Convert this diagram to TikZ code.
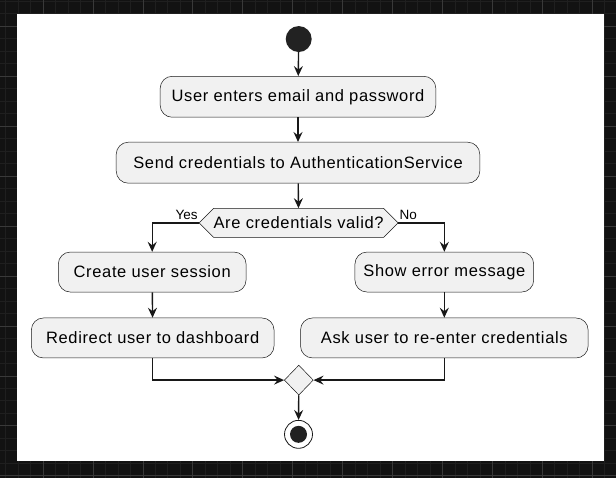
\documentclass[tikz,border=0pt]{standalone}
\usepackage{fontspec}
\setmainfont{Liberation Sans}[LetterSpace=4]
\newfontfamily\guardfont{Liberation Sans}
\usetikzlibrary{arrows.meta,shapes.geometric,shapes.symbols}

\definecolor{actfill}{HTML}{F1F1F1}
\definecolor{actline}{HTML}{181818}
\definecolor{bgdark}{HTML}{121212}
\definecolor{gridminor}{HTML}{1F1F1F}
\definecolor{gridmajor}{HTML}{393939}
\definecolor{dotfill}{HTML}{222222}

\tikzset{
  act/.style={draw=actline, line width=0.5pt, fill=actfill, rounded corners=12pt,
    inner sep=0pt, font=\fontsize{16.5}{19}\selectfont},
  flow/.style={draw=actline, line width=1.4pt,
    -{Stealth[length=10pt,width=9pt,inset=3.5pt]}},
  guard/.style={font=\guardfont\fontsize{13.5}{15}\selectfont, inner sep=1pt}
}

\begin{document}
\begin{tikzpicture}[x=1pt,y=-1pt]
      \fill [bgdark] (0,0) rectangle (616,478);
      \foreach \gx in {5.2,17.7,...,616}{
        \draw [gridminor, line width=0.8pt] (\gx,0) -- (\gx,478);
      }
      \foreach \gy in {1,13.5,...,478}{
        \draw [gridminor, line width=0.8pt] (0,\gy) -- (616,\gy);
      }
      \foreach \gx in {42.7,92.7,...,616}{
        \draw [gridmajor, line width=0.8pt] (\gx,0) -- (\gx,478);
      }
      \foreach \gy in {26,76,...,478}{
        \draw [gridmajor, line width=0.8pt] (0,\gy) -- (616,\gy);
      }
      \fill [white] (17,14) rectangle (604,461.5);
      \useasboundingbox (0,0) rectangle (616,478);

      \node [circle, fill=dotfill, minimum size=26pt, inner sep=0pt] (start) at (298.7,38.7) {};
      \node [act, minimum width=276pt, minimum height=41pt] (enter) at (298,96.5) {User enters email and password};
      \node [act, minimum width=364pt, minimum height=41pt] (send) at (298,162.5) {Send credentials to AuthenticationService};
      \node [signal, signal to=west and east, signal pointer angle=90, draw=actline, line width=0.5pt,
        fill=actfill, inner sep=0pt, minimum width=197pt, minimum height=29pt,
        font=\fontsize{16.5}{19}\selectfont] (valid) at (298.6,222.8) {Are credentials valid?};
      \node [act, minimum width=188pt, minimum height=40pt] (session) at (152,272) {Create user session};
      \node [act, minimum width=243pt, minimum height=40pt] (redirect) at (152.5,338) {Redirect user to dashboard};
      \node [act, minimum width=179pt, minimum height=40pt] (error) at (444.5,272) {Show error message};
      \node [act, minimum width=288pt, minimum height=40pt] (reenter) at (444.5,338) {Ask user to re-enter credentials};
      \node [diamond, draw=actline, line width=0.5pt, fill=actfill, inner sep=0pt,
        minimum width=29pt, minimum height=30pt] (merge) at (298.8,380.2) {};
      \node [circle, draw=actline, line width=0.8pt, minimum size=28pt, inner sep=0pt] (stop) at (298.5,434.5) {};
      \fill [dotfill] (stop.center) circle [radius = 8.5];

      \draw [flow] (start) -- (enter);
      \draw [flow] (enter) -- (send);
      \draw [flow] (send) -- (valid);
      \draw [flow] (valid.west) -| (session.north);
      \draw [flow] (valid.east) -| (error.north);
      \draw [flow] (session) -- (redirect);
      \draw [flow] (error) -- (reenter);
      \draw [flow] (redirect.south) |- (merge.west);
      \draw [flow] (reenter.south) |- (merge.east);
      \draw [flow] (merge) -- (stop);

      \node [guard, anchor=base east] (yes) at ([yshift=3pt]valid.west) {Yes};
      \node [guard, anchor=base west] (no) at ([yshift=3pt]valid.east) {No};
    \end{tikzpicture}
\end{document}
